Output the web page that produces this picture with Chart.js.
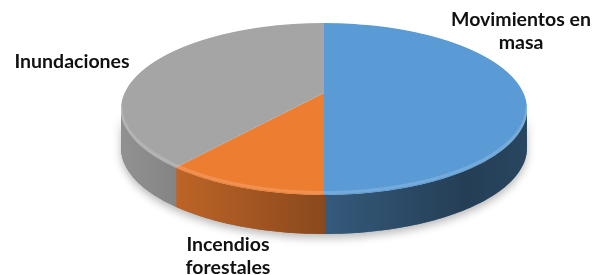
<!DOCTYPE html>
<html><head><meta charset="utf-8">
<script src="https://cdn.jsdelivr.net/npm/chart.js@4/dist/chart.umd.min.js"></script>
<style>html,body{margin:0;padding:0;background:#fff;}canvas{display:block;}</style>
</head><body>
<canvas id="c" width="602" height="275"></canvas>
<script>
const categories = ['Movimientos en masa', 'Incendios forestales', 'Inundaciones'];
const values = [50, 11, 39];
const colors = ['#5B9BD5', '#ED7D31', '#A5A5A5'];
const labelLines = [['Movimientos en', 'masa'], ['Incendios', 'forestales'], ['Inundaciones']];
const labelPos = [[521, 20], [228, 245], [72, 62]];

// perspective view of the pie plane
const P = {cx: 324, b: 93, a: 65.72, c: -0.186, S: 199.4, D: 39};
function proj(u, v) { const w = 1 + P.c * v; return [P.cx + P.S * u / w, (P.a * v + P.b) / w]; }

const pie3d = {
  id: 'pie3d',
  beforeDatasetsDraw(chart) {
    const ctx = chart.ctx;
    const arcs = chart.getDatasetMeta(0).data;
    const ccx = arcs[0].x, ccy = arcs[0].y, r0 = arcs[0].outerRadius;
    const thW = Math.asin(-P.c);
    const lo = thW, hi = Math.PI - thW;
    function rimPath(t0, t1) {
      ctx.beginPath();
      const steps = Math.max(2, Math.ceil((t1 - t0) / Math.PI * 160));
      for (let k = 0; k <= steps; k++) { const t = t0 + (t1 - t0) * k / steps; const p = proj(Math.cos(t), Math.sin(t)); k ? ctx.lineTo(p[0], p[1]) : ctx.moveTo(p[0], p[1]); }
      for (let k = steps; k >= 0; k--) { const t = t0 + (t1 - t0) * k / steps; const p = proj(Math.cos(t), Math.sin(t)); ctx.lineTo(p[0], p[1] + P.D); }
      ctx.closePath();
    }
    ctx.save();
    ctx.setTransform(1, 0, 0, 1, 0, 0);
    // soft shadow
    rimPath(lo, hi);
    ctx.shadowColor = 'rgba(0,0,0,0.28)'; ctx.shadowBlur = 9; ctx.shadowOffsetY = 4;
    ctx.fillStyle = '#777'; ctx.fill();
    ctx.shadowColor = 'transparent'; ctx.shadowBlur = 0; ctx.shadowOffsetY = 0;
    // side walls
    arcs.forEach((arc) => {
      const a0 = Math.max(arc.startAngle - 0.004, lo), a1 = Math.min(arc.endAngle + 0.004, hi);
      if (a1 > a0) { rimPath(a0, a1); ctx.fillStyle = arc.options.backgroundColor; ctx.fill(); }
    });
    const g = ctx.createLinearGradient(122, 0, 527, 0);
    g.addColorStop(0, 'rgba(0,0,0,0.12)');
    g.addColorStop(0.5, 'rgba(0,0,0,0.42)');
    g.addColorStop(0.85, 'rgba(0,0,0,0.6)');
    g.addColorStop(1, 'rgba(0,0,0,0.55)');
    rimPath(lo, hi); ctx.fillStyle = g; ctx.fill();
    ctx.restore();
    // top face, drawn row by row with the local perspective transform
    const top = Math.floor(proj(0, -1)[1]) - 1, bot = Math.ceil(proj(0, 1)[1]) + 1;
    const k = P.a - P.c * P.b;
    for (let y = top; y <= bot; y++) {
      const Yd = y + 0.5;
      const v0 = (Yd - P.b) / (P.a - Yd * P.c);
      const w = 1 + P.c * v0;
      const sx = P.S / w, sy = k / (w * w);
      ctx.save();
      ctx.setTransform(1, 0, 0, 1, 0, 0);
      ctx.beginPath(); ctx.rect(0, y, chart.width, 1); ctx.clip();
      ctx.setTransform(sx / r0, 0, 0, sy / r0, P.cx - sx * ccx / r0, Yd - sy * v0 - sy * ccy / r0);
      arcs.forEach(a => a.draw(ctx));
      ctx.restore();
    }
    // bevel highlight along front rim
    ctx.save();
    ctx.setTransform(1, 0, 0, 1, 0, 0);
    ctx.beginPath();
    for (let i = 0; i <= 200; i++) { const t = lo + (hi - lo) * i / 200; const p = proj(Math.cos(t), Math.sin(t)); i ? ctx.lineTo(p[0], p[1] - 2.5) : ctx.moveTo(p[0], p[1] - 2.5); }
    ctx.strokeStyle = 'rgba(255,255,255,0.16)'; ctx.lineWidth = 3; ctx.stroke();
    ctx.restore();
    return false;
  },
  afterDraw(chart) {
    const ctx = chart.ctx;
    ctx.save();
    ctx.font = 'bold 19.5px Lato';
    ctx.fillStyle = '#111';
    ctx.textAlign = 'center';
    ctx.textBaseline = 'middle';
    labelLines.forEach((lines, i) => {
      lines.forEach((t, j) => ctx.fillText(t, labelPos[i][0], labelPos[i][1] + j * 22.5));
    });
    ctx.restore();
  }
};

new Chart(document.getElementById('c').getContext('2d'), {
  type: 'pie',
  data: { labels: categories, datasets: [{ data: values, backgroundColor: colors, borderWidth: 0 }] },
  options: {
    responsive: false, animation: false, events: [],
    plugins: { legend: { display: false }, tooltip: { enabled: false } }
  },
  plugins: [pie3d]
});
</script>
</body></html>
